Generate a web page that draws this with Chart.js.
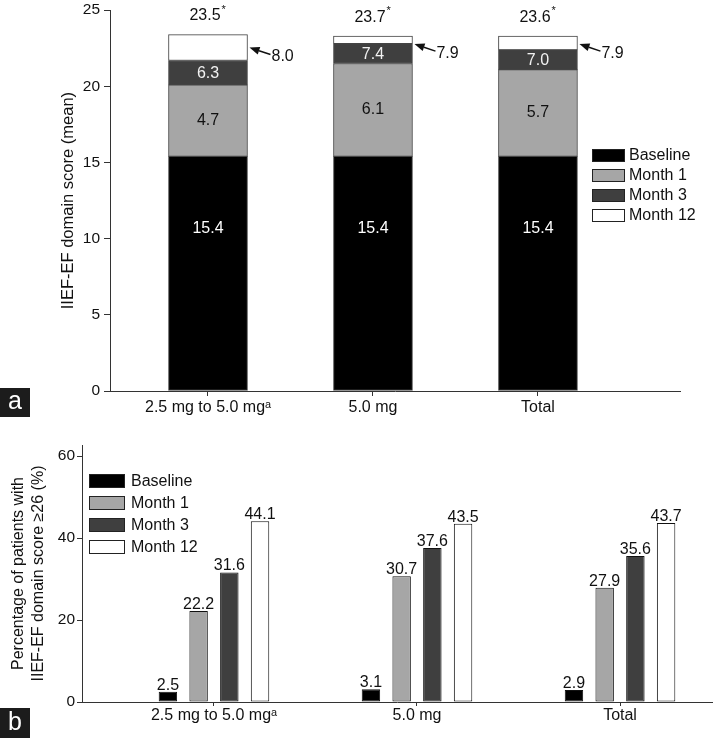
<!DOCTYPE html>
<html><head><meta charset="utf-8">
<script src="https://cdn.jsdelivr.net/npm/chart.js@4.4.1/dist/chart.umd.min.js"></script>
<style>
html,body{margin:0;padding:0;background:#fff;}
#wrap{position:relative;width:713px;height:738px;overflow:hidden;background:#fff;}
canvas{position:absolute;left:0;}
#ca{top:0;} #cb{top:420px;}
</style></head><body>
<div id="wrap"><canvas id="ca" width="713" height="420"></canvas><canvas id="cb" width="713" height="318"></canvas></div>
<script>
// ---------- data ----------
const categories = ['2.5 mg to 5.0 mg\u1D43', '5.0 mg', 'Total'];
const seriesNames = ['Baseline', 'Month 1', 'Month 3', 'Month 12'];
const seriesColors = ['#000000', '#a6a6a6', '#3f3f3f', '#ffffff'];
// panel a: mean IIEF-EF domain score (baseline + change from baseline)
const baselineScore = [15.4, 15.4, 15.4];
const changeMonth1 = [4.7, 6.1, 5.7];
const changeMonth3 = [6.3, 7.4, 7.0];
const changeMonth12 = [8.0, 7.9, 7.9];
const totalScore = [23.5, 23.7, 23.6];
const yTicksA = [0, 5, 10, 15, 20, 25];
// panel b: percentage of patients with IIEF-EF domain score >= 26
const pctBaseline = [2.5, 3.1, 2.9];
const pctMonth1 = [22.2, 30.7, 27.9];
const pctMonth3 = [31.6, 37.6, 35.6];
const pctMonth12 = [44.1, 43.5, 43.7];
const yTicksB = [0, 20, 40, 60];

// ---------- helpers ----------
const FONT = "'Liberation Sans', Arial, Helvetica, sans-serif";
Chart.defaults.font.family = FONT;
Chart.defaults.color = '#111';
const fmt = v => v.toFixed(1);
const pts = arr => arr.map((v, i) => ({ x: i, y: v }));

const segA = [
  baselineScore,
  changeMonth1,
  changeMonth3.map((v, i) => +(v - changeMonth1[i]).toFixed(2)),
  changeMonth12.map((v, i) => +(v - changeMonth3[i]).toFixed(2))
];
const segLabels = [baselineScore, changeMonth1, changeMonth3, changeMonth12];
const pctSeries = [pctBaseline, pctMonth1, pctMonth3, pctMonth12];

const boxLegend = {
  id: 'boxLegend',
  afterDraw(chart, args, o) {
    const ctx = chart.ctx;
    ctx.save();
    ctx.font = `${o.fontSize}px ${FONT}`;
    ctx.textBaseline = 'middle';
    ctx.textAlign = 'left';
    chart.data.datasets.forEach((ds, i) => {
      const cy = o.y + i * o.rowGap;
      const top = Math.round(cy - o.boxH / 2);
      ctx.fillStyle = ds.backgroundColor;
      ctx.fillRect(o.x, top, o.boxW, o.boxH);
      ctx.strokeStyle = '#222';
      ctx.lineWidth = 1;
      ctx.strokeRect(o.x + 0.5, top + 0.5, o.boxW - 1, o.boxH - 1);
      ctx.fillStyle = '#111';
      ctx.fillText(ds.label, o.x + o.boxW + o.gap, cy + 1);
    });
    ctx.restore();
  }
};

const panelTag = {
  id: 'panelTag',
  afterDraw(chart, args, o) {
    const ctx = chart.ctx;
    ctx.save();
    ctx.fillStyle = '#1c1c1c';
    ctx.fillRect(o.x, o.y, o.w, o.h);
    ctx.fillStyle = '#fff';
    ctx.font = `25px ${FONT}`;
    ctx.textAlign = 'center';
    ctx.textBaseline = 'middle';
    ctx.fillText(o.text, o.x + o.w / 2, o.y + o.h / 2);
    ctx.restore();
  }
};

const stackLabels = {
  id: 'stackLabels',
  afterDatasetsDraw(chart) {
    const ctx = chart.ctx;
    const metas = chart.data.datasets.map((d, i) => chart.getDatasetMeta(i));
    ctx.save();
    ctx.font = `16px ${FONT}`;
    ctx.textBaseline = 'middle';
    categories.forEach((c, i) => {
      ctx.textAlign = 'center';
      const b = metas[0].data[i];
      ctx.fillStyle = '#fff';
      ctx.fillText(fmt(segLabels[0][i]), b.x, b.base - 0.69 * (b.base - b.y));
      const m1 = metas[1].data[i];
      ctx.fillStyle = '#111';
      ctx.fillText(fmt(segLabels[1][i]), m1.x, (m1.y + m1.base) / 2);
      const m3 = metas[2].data[i];
      ctx.fillStyle = '#f2f2f2';
      ctx.fillText(fmt(segLabels[2][i]), m3.x, (m3.y + m3.base) / 2 + 1);
      const m12 = metas[3].data[i];
      // arrow to month 12 segment
      const right = m12.x + m12.width / 2;
      const tipX = right + 2;
      const tipY = Math.max((m12.y + m12.base) / 2, m12.y + 8);
      const tailX = tipX + 21, tailY = tipY + 7;
      const ang = Math.atan2(tipY - tailY, tipX - tailX);
      const hl = 10, hw = 4;
      const bx = tipX - hl * Math.cos(ang), by = tipY - hl * Math.sin(ang);
      ctx.strokeStyle = '#111';
      ctx.lineWidth = 1.5;
      ctx.beginPath(); ctx.moveTo(tailX, tailY); ctx.lineTo(bx, by); ctx.stroke();
      ctx.fillStyle = '#111';
      ctx.beginPath();
      ctx.moveTo(tipX, tipY);
      ctx.lineTo(bx + hw * Math.sin(ang), by - hw * Math.cos(ang));
      ctx.lineTo(bx - hw * Math.sin(ang), by + hw * Math.cos(ang));
      ctx.closePath(); ctx.fill();
      ctx.textAlign = 'left';
      ctx.fillText(fmt(segLabels[3][i]), tailX + 1, tailY + 2);
      // total above bar
      ctx.textAlign = 'center';
      ctx.font = `16px ${FONT}`;
      const t = fmt(totalScore[i]);
      const tw = ctx.measureText(t).width;
      const aw = 6;
      const ty = m12.y - 19;
      ctx.fillText(t, m12.x - aw / 2, ty);
      ctx.font = `11px ${FONT}`;
      ctx.textAlign = 'left';
      ctx.fillText('*', m12.x - aw / 2 + tw / 2 + 1, ty - 6);
      ctx.font = `16px ${FONT}`;
    });
    ctx.restore();
  }
};

const barValueLabels = {
  id: 'barValueLabels',
  afterDatasetsDraw(chart) {
    const ctx = chart.ctx;
    ctx.save();
    ctx.font = `16px ${FONT}`;
    ctx.textAlign = 'center';
    ctx.textBaseline = 'alphabetic';
    ctx.fillStyle = '#111';
    chart.data.datasets.forEach((ds, di) => {
      chart.getDatasetMeta(di).data.forEach((el, i) => {
        ctx.fillText(fmt(pctSeries[di][i]), el.x, el.y - 2);
      });
    });
    ctx.restore();
  }
};

const axisCommon = {
  grid: { drawOnChartArea: false, drawTicks: true, color: '#333', lineWidth: 1, offset: false },
  border: { display: true, color: '#333', width: 1 }
};

// ---------- panel a ----------
new Chart(document.getElementById('ca'), {
  type: 'bar',
  data: {
    datasets: seriesNames.map((name, k) => ({
      label: name,
      data: pts(segA[k]),
      backgroundColor: seriesColors[k],
      borderColor: '#444',
      borderWidth: 1,
      borderSkipped: false,
      barThickness: 79
    }))
  },
  options: {
    responsive: false,
    devicePixelRatio: 1,
    animation: false,
    layout: { padding: { top: 6.5, right: 33, bottom: 0, left: 0 } },
    plugins: {
      legend: { display: false },
      tooltip: { enabled: false },
      boxLegend: { x: 592, y: 155, rowGap: 20, boxW: 33, boxH: 13, gap: 4, fontSize: 16 },
      panelTag: { x: 0, y: 388, w: 30, h: 29, text: 'a' }
    },
    scales: {
      x: {
        type: 'linear', min: -0.594, max: 2.861, stacked: true, offset: false,
        afterBuildTicks: s => { s.ticks = categories.map((_, i) => ({ value: i })); },
        afterFit: s => { s.height = 29; },
        ticks: { callback: v => categories[v], font: { size: 16 }, padding: 2, color: '#111', autoSkip: false, maxRotation: 0 },
        grid: { ...axisCommon.grid, tickLength: 5 },
        border: axisCommon.border
      },
      y: {
        min: 0, max: 25, stacked: true,
        afterBuildTicks: s => { s.ticks = yTicksA.map(v => ({ value: v })); },
        afterFit: s => { s.width = 110; },
        ticks: { font: { size: 15.5, lineHeight: 0.8 }, padding: 4, color: '#111' },
        grid: { ...axisCommon.grid, tickLength: 6 },
        border: axisCommon.border,
        title: { display: true, text: 'IIEF-EF domain score (mean)', font: { size: 16.5 }, color: '#111', padding: { top: 59, bottom: 0 } }
      }
    }
  },
  plugins: [stackLabels, boxLegend, panelTag]
});

// ---------- panel b ----------
new Chart(document.getElementById('cb'), {
  type: 'bar',
  data: {
    datasets: seriesNames.map((name, k) => ({
      label: name,
      data: pts(pctSeries[k]),
      backgroundColor: seriesColors[k],
      borderColor: '#111',
      borderWidth: 1,
      borderSkipped: false,
      categoryPercentage: 0.605,
      barPercentage: 0.6
    }))
  },
  options: {
    responsive: false,
    devicePixelRatio: 1,
    animation: false,
    layout: { padding: { top: 25, right: 1, bottom: 0, left: 0 } },
    plugins: {
      legend: { display: false },
      tooltip: { enabled: false },
      boxLegend: { x: 89, y: 61, rowGap: 22, boxW: 36, boxH: 14, gap: 6, fontSize: 16 },
      panelTag: { x: 0, y: 288, w: 30, h: 30, text: 'b' }
    },
    scales: {
      x: {
        type: 'linear', min: -0.65, max: 2.453, offset: false,
        afterBuildTicks: s => { s.ticks = categories.map((_, i) => ({ value: i })); },
        afterFit: s => { s.height = 36; },
        ticks: { callback: v => categories[v], font: { size: 16 }, padding: 0, color: '#111', autoSkip: false, maxRotation: 0 },
        grid: { ...axisCommon.grid, tickLength: 4 },
        border: axisCommon.border
      },
      y: {
        min: 0, max: 62.7,
        afterBuildTicks: s => { s.ticks = yTicksB.map(v => ({ value: v })); },
        afterFit: s => { s.width = 82; },
        ticks: { font: { size: 15.5 }, padding: 2, color: '#111' },
        grid: { ...axisCommon.grid, tickLength: 5 },
        border: axisCommon.border,
        title: { display: true, text: ['Percentage of patients with', 'IIEF-EF domain score \u226526 (%)'], font: { size: 16, lineHeight: 1.25 }, color: '#111', padding: { top: 9, bottom: 0 } }
      }
    }
  },
  plugins: [barValueLabels, boxLegend, panelTag]
});
</script>
</body></html>
